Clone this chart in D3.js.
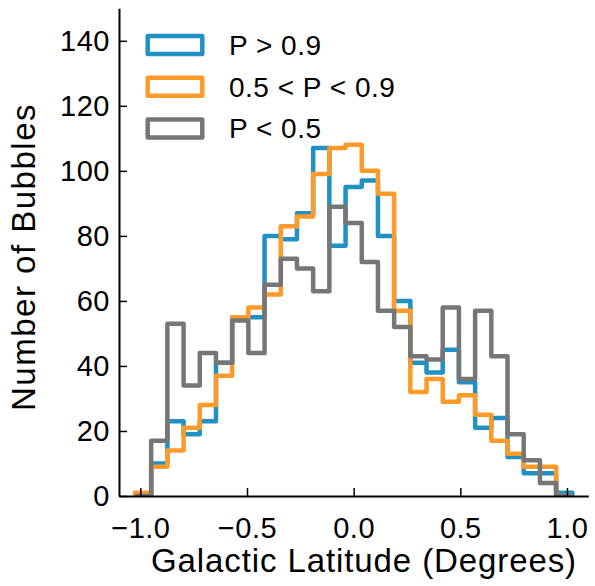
<!DOCTYPE html>
<html>
<head>
<meta charset="utf-8">
<script src="https://cdn.jsdelivr.net/npm/d3@7"></script>
<style>
  body { margin: 0; background: #fff; }
  svg { display: block; font-family: "Liberation Sans", Arial, Helvetica, sans-serif; }
</style>
</head>
<body>
<div id="chart"></div>
<script>
// histogram bins: 27 equal bins across the latitude range
const BIN_START = -1.025;
const BIN_END   = 1.025;
const N_BINS    = 27;

const seriesNames = ["P > 0.9", "0.5 < P < 0.9", "P < 0.5"];
const seriesColors = ["#2191c4", "#fd9a2a", "#767676"];

// counts per bin
const highP = [0, 10, 23, 19, 23, 41, 55, 55, 80, 79, 87, 107, 77, 95, 97, 80, 60, 41, 38, 45, 35, 21, 24, 12, 7, 7, 1];
const midP  = [1, 9, 14, 21, 28, 37, 55, 58, 62, 83, 86, 99, 107, 108, 100, 93, 57, 32, 36, 29, 31, 25, 17, 13, 9, 9, 0];
const lowP  = [0, 17, 53, 34, 44, 41, 54, 44, 65, 73, 70, 63, 89, 84, 72, 57, 52, 43, 42, 58, 36, 57, 43, 19, 11, 4, 0];

const xTicks = [-1.0, -0.5, 0.0, 0.5, 1.0];
const yTicks = [0, 20, 40, 60, 80, 100, 120, 140];

const W = 595, H = 586;
const margin = { top: 8.3, right: 6.7, bottom: 90, left: 119 };
const width  = W - margin.left - margin.right;
const height = H - margin.top - margin.bottom;

const svg = d3.select("#chart")
  .append("svg")
  .attr("width", W)
  .attr("height", H);

const g = svg.append("g")
  .attr("transform", `translate(${margin.left},${margin.top})`);

const x = d3.scaleLinear().domain([-1.1, 1.1]).range([0, width]);
const y = d3.scaleLinear().domain([0, 150]).range([height, 0]);

const binWidth = (BIN_END - BIN_START) / N_BINS;
const edges = d3.range(N_BINS + 1).map(i => BIN_START + i * binWidth);

// step outline like matplotlib histtype="step"
function stepPoints(counts) {
  const pts = [[edges[0], 0]];
  counts.forEach((c, i) => {
    pts.push([edges[i], c]);
    pts.push([edges[i + 1], c]);
  });
  pts.push([edges[N_BINS], 0]);
  return pts;
}

const line = d3.line()
  .x(d => x(d[0]))
  .y(d => y(d[1]));

svg.append("defs").append("clipPath")
  .attr("id", "plot-clip")
  .append("rect")
  .attr("width", width)
  .attr("height", height);

const plot = g.append("g").attr("clip-path", "url(#plot-clip)");

[highP, midP, lowP].forEach((counts, i) => {
  plot.append("path")
    .datum(stepPoints(counts))
    .attr("fill", "none")
    .attr("stroke", seriesColors[i])
    .attr("stroke-width", 4.5)
    .attr("stroke-linejoin", "round")
    .attr("d", line);
});

// axes: inward ticks, left + bottom spines only
const xAxis = g.append("g")
  .attr("transform", `translate(0,${height})`)
  .call(d3.axisBottom(x)
    .tickValues(xTicks)
    .tickSizeInner(-8)
    .tickSizeOuter(0)
    .tickPadding(21)
    .tickFormat(d => d3.format(".1f")(d).replace("-", "\u2212")));

const yAxis = g.append("g")
  .call(d3.axisLeft(y)
    .tickValues(yTicks)
    .tickSizeInner(-8)
    .tickSizeOuter(0)
    .tickPadding(9)
    .tickFormat(d3.format("d")));

[xAxis, yAxis].forEach(ax => {
  ax.select(".domain").attr("stroke", "#000").attr("stroke-width", 2);
  ax.selectAll(".tick line").attr("stroke", "#000").attr("stroke-width", 1.5);
  ax.selectAll(".tick text")
    .attr("fill", "#000")
    .style("font-size", "29px")
    .style("letter-spacing", "0.5px")
    .style("font-family", "'Liberation Sans', Arial, sans-serif");
});

// axis labels
svg.append("text")
  .attr("x", 364)
  .attr("y", 572)
  .attr("text-anchor", "middle")
  .style("font-size", "33px")
  .style("letter-spacing", "0.9px")
  .text("Galactic Latitude (Degrees)");

svg.append("text")
  .attr("transform", "translate(35,257) rotate(-90)")
  .attr("text-anchor", "middle")
  .style("font-size", "33px")
  .style("letter-spacing", "1.5px")
  .text("Number of Bubbles");

// legend
const legend = svg.append("g");
seriesNames.forEach((name, i) => {
  const row = legend.append("g")
    .attr("transform", `translate(0,${i * 41.7})`);
  row.append("rect")
    .attr("x", 147.7)
    .attr("y", 36)
    .attr("width", 54.6)
    .attr("height", 18)
    .attr("fill", "none")
    .attr("stroke", seriesColors[i])
    .attr("stroke-width", 4.5)
    .attr("stroke-linejoin", "round");
  row.append("text")
    .attr("x", 229)
    .attr("y", 55)
    .style("font-size", "28px")
    .style("letter-spacing", "0.5px")
    .text(name);
});
</script>
</body>
</html>
